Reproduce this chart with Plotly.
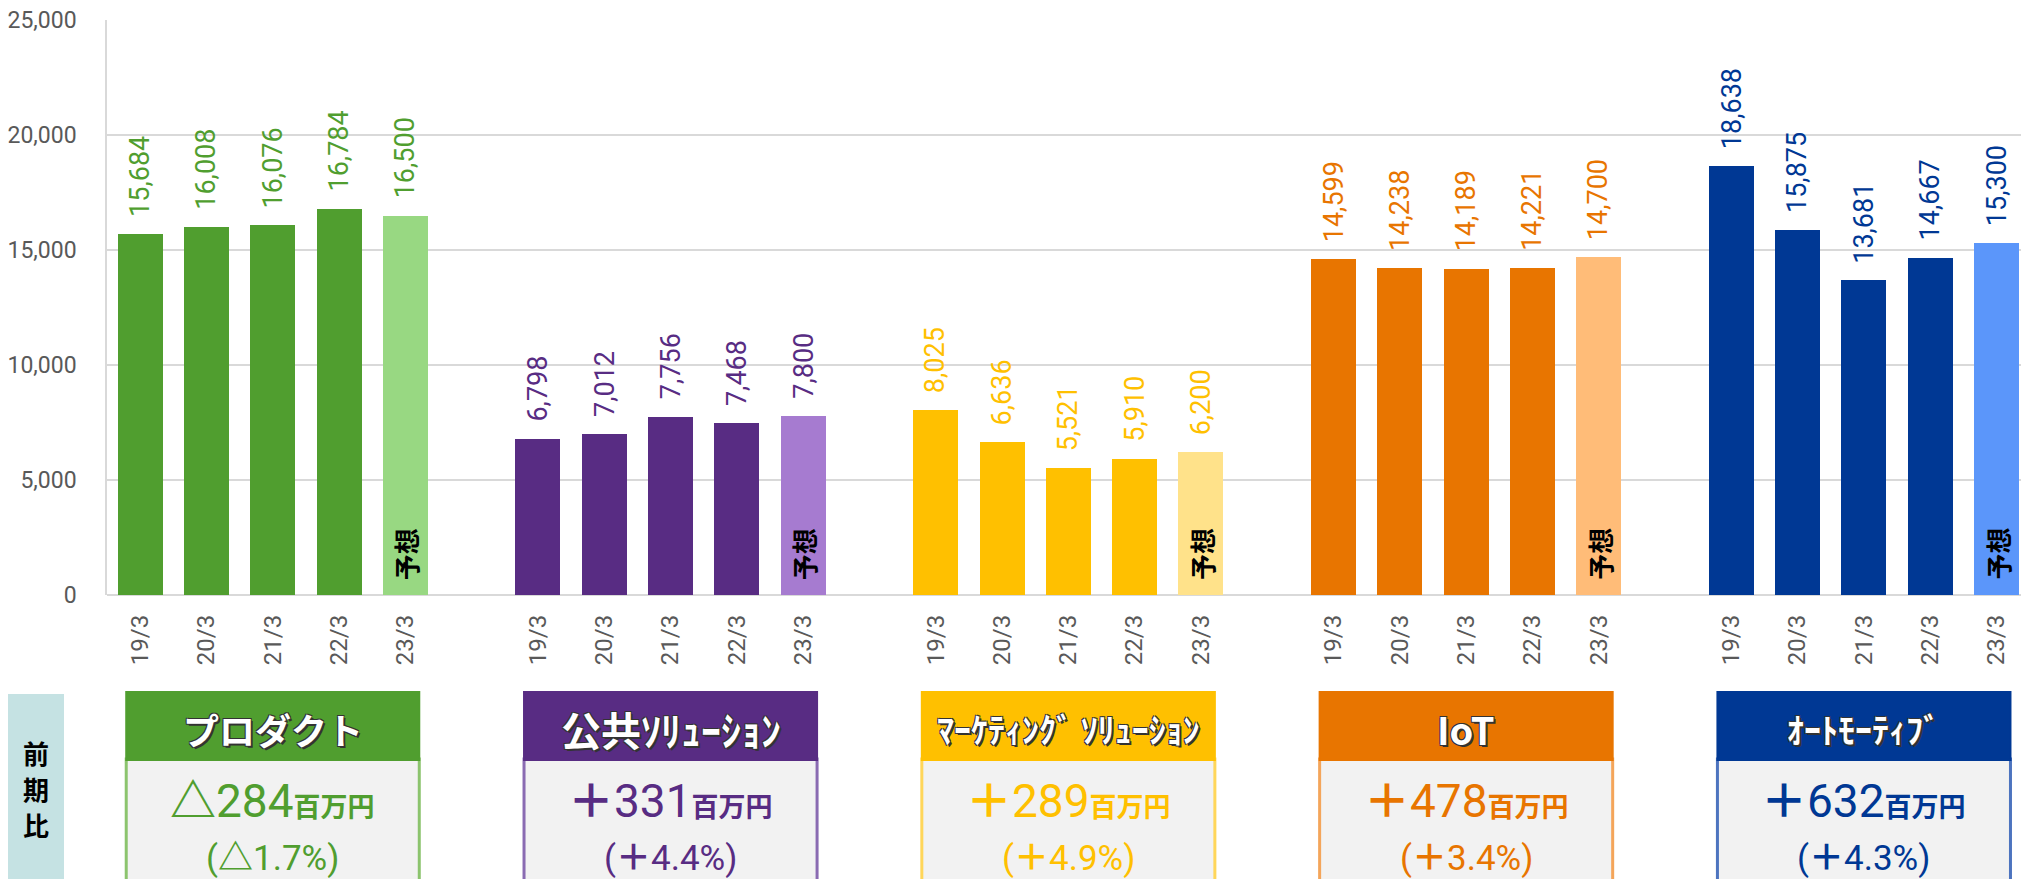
import plotly.graph_objects as go

# ---------------- data ----------------
periods = ["19/3", "20/3", "21/3", "22/3", "23/3"]
segments = ["プロダクト", "公共ｿﾘｭｰｼｮﾝ", "ﾏｰｹﾃｨﾝｸﾞ ｿﾘｭｰｼｮﾝ", "IoT", "ｵｰﾄﾓｰﾃｨﾌﾞ"]
product = [15684, 16008, 16076, 16784, 16500]
public_solution = [6798, 7012, 7756, 7468, 7800]
marketing_solution = [8025, 6636, 5521, 5910, 6200]
iot = [14599, 14238, 14189, 14221, 14700]
automotive = [18638, 15875, 13681, 14667, 15300]
series = [product, public_solution, marketing_solution, iot, automotive]
change_sign = ["△", "＋", "＋", "＋", "＋"]
change_amount = [284, 331, 289, 478, 632]
change_ratio = [1.7, 4.4, 4.9, 3.4, 4.3]
unit_label = "百万円"
forecast_label = "予想"
side_label = ["前", "期", "比"]
y_ticks = [0, 5000, 10000, 15000, 20000, 25000]

# ---------------- styles ----------------
main_colors = ["#509E2F", "#582C83", "#FFC000", "#E87500", "#003894"]
forecast_colors = ["#98D882", "#A67BD0", "#FFE28A", "#FFBC78", "#5B96FA"]
border_colors = ["#8CC46E", "#8A6BB2", "#FFD65A", "#F4A55A", "#4D74BF"]
header_sizes = [36, 40, 34, 38, 34]
NUM_FONT = "Roboto, sans-serif"
JP_FONT = "Noto Sans CJK JP, sans-serif"
GRID = "#D9D9D9"
TICK = "#595959"

W, H = 2021, 879
L, T, B = 107, 20, 284
slot_px = 66.3
plot_w = W - L
xmin = -0.5
xmax = xmin + plot_w / slot_px
GROUP = len(periods) + 1

xs, ys, cols = [], [], []
for g, vals in enumerate(series):
    for i, v in enumerate(vals):
        xs.append(g * GROUP + i)
        ys.append(v)
        cols.append(forecast_colors[g] if i == len(vals) - 1 else main_colors[g])

fig = go.Figure()
fig.add_trace(go.Bar(x=xs, y=ys, marker=dict(color=cols, line=dict(width=0)),
                     width=0.68, hoverinfo="skip", showlegend=False))

annotations = []
for g, vals in enumerate(series):
    for i, v in enumerate(vals):
        annotations.append(dict(x=g * GROUP + i, y=v, xref="x", yref="y",
                                text=f"{v:,}", textangle=-90, showarrow=False,
                                yanchor="bottom", xanchor="center", yshift=15,
                                font=dict(family=NUM_FONT, size=27, color=main_colors[g])))
    annotations.append(dict(x=g * GROUP + len(vals) - 1, y=0, xref="x", yref="y",
                            text=forecast_label, textangle=-90, showarrow=False,
                            yanchor="bottom", xanchor="center", yshift=13,
                            font=dict(family=JP_FONT, size=26, color="#000000", weight="bold")))

ph = H - T - B


def py(px_y):
    return (H - B - px_y) / ph


def px_x(slot):
    return (slot - xmin) / (xmax - xmin)


SIGN_STYLE = "font-family:Noto Sans CJK JP;font-weight:bold"
shapes = []
half = 2.21
for g in range(len(segments)):
    c = g * GROUP + 2
    x0, x1 = px_x(c - half), px_x(c + half)
    shapes.append(dict(type="rect", xref="paper", yref="paper", x0=x0, x1=x1,
                       y0=py(759), y1=py(900), fillcolor="#F2F2F2",
                       line=dict(color=border_colors[g], width=3), layer="above"))
    shapes.append(dict(type="rect", xref="paper", yref="paper", x0=x0, x1=x1,
                       y0=py(692), y1=py(760), fillcolor=main_colors[g],
                       line=dict(color=main_colors[g], width=2), layer="above"))
    xc = px_x(c)
    annotations.append(dict(x=xc, y=py(729), xref="paper", yref="paper", text=segments[g],
                            showarrow=False, xanchor="center", yanchor="middle",
                            font=dict(family=JP_FONT, size=header_sizes[g], color="#FFFFFF",
                                      weight="bold",
                                      shadow="2px 2px 0px #333333, -1px -1px 0px #333333, 1px -1px 0px #333333, -1px 1px 0px #333333")))
    amount_text = (f"<span style='{SIGN_STYLE}'>{change_sign[g]}</span>{change_amount[g]}"
                   f"<span style='font-size:27px;{SIGN_STYLE}'>{unit_label}</span>")
    annotations.append(dict(x=xc, y=py(797), xref="paper", yref="paper", text=amount_text,
                            showarrow=False, xanchor="center", yanchor="middle",
                            font=dict(family=NUM_FONT, size=46, color=main_colors[g])))
    pct_text = f"(<span style='{SIGN_STYLE}'>{change_sign[g]}</span>{change_ratio[g]:.1f}%)"
    annotations.append(dict(x=xc, y=py(854), xref="paper", yref="paper", text=pct_text,
                            showarrow=False, xanchor="center", yanchor="middle",
                            font=dict(family=NUM_FONT, size=35, color=main_colors[g])))

shapes.append(dict(type="rect", xref="paper", yref="paper", x0=(8 - L) / plot_w, x1=(64 - L) / plot_w,
                   y0=py(694), y1=py(900), fillcolor="#C5E2E3", line=dict(width=0), layer="above"))
for k, ch in enumerate(side_label):
    annotations.append(dict(x=(36 - L) / plot_w, y=py(752 + 36 * k), xref="paper", yref="paper",
                            text=ch, showarrow=False, xanchor="center", yanchor="middle",
                            font=dict(family=JP_FONT, size=26, color="#000000", weight="bold")))

tickvals = [g * GROUP + i for g in range(len(series)) for i in range(len(periods))]
ticktext = [periods[i] for g in range(len(series)) for i in range(len(periods))]

fig.update_layout(
    width=W, height=H, autosize=False,
    margin=dict(l=L, r=0, t=T, b=B, pad=0),
    paper_bgcolor="#FFFFFF", plot_bgcolor="#FFFFFF",
    bargap=0,
    xaxis=dict(range=[xmin, xmax], tickmode="array", tickvals=tickvals, ticktext=ticktext,
               tickangle=-90, showgrid=False, zeroline=False, showline=False, automargin=False,
               tickfont=dict(family=NUM_FONT, size=24, color=TICK), ticks="",
               ticklabelstandoff=14, fixedrange=True),
    yaxis=dict(range=[0, 25000], tickmode="array", tickvals=y_ticks, automargin=False,
               tickformat=",d", showgrid=True, gridcolor=GRID, gridwidth=1.5,
               zeroline=True, zerolinecolor=GRID, zerolinewidth=1.5,
               showline=True, linecolor=GRID, linewidth=1.5,
               tickfont=dict(family=NUM_FONT, size=23, color=TICK), ticks="",
               ticklabelstandoff=24, fixedrange=True),
    shapes=shapes, annotations=annotations,
)

fig.write_html("out.html", config={"displayModeBar": False},
               post_script="document.body.style.margin='0';document.body.style.overflow='hidden';")
